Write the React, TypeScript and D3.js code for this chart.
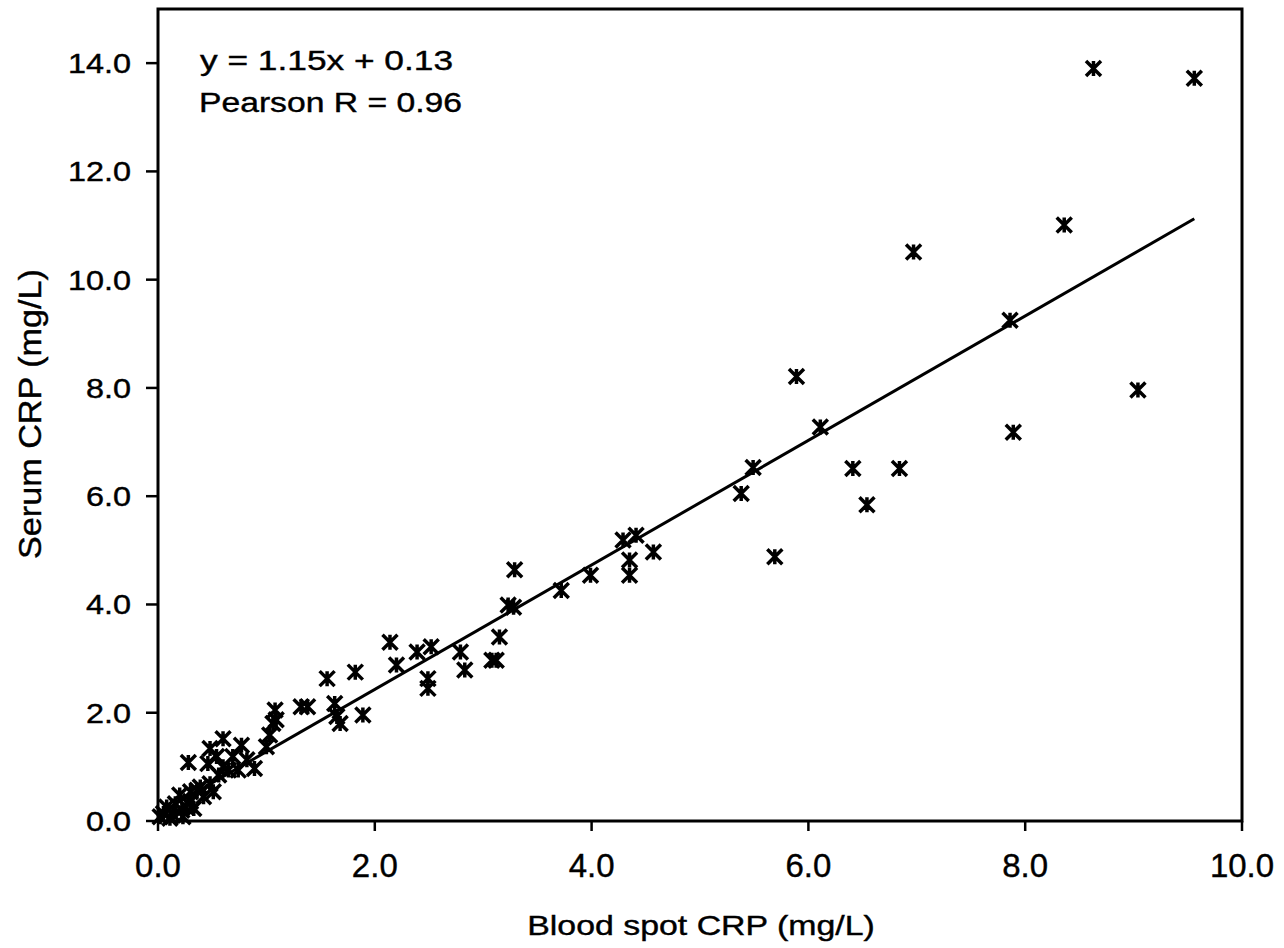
import React from "react";
import * as d3 from "d3";

const blood: number[] = [
  0.02, 0.05, 0.08, 0.11, 0.14, 0.16, 0.2, 0.22, 0.23, 0.26, 0.28, 0.3, 0.3, 0.33, 0.36, 0.39, 0.42, 0.46,
  0.48, 0.48, 0.51, 0.54, 0.56, 0.6, 0.6, 0.65, 0.69, 0.74, 0.77, 0.82, 0.89, 1.0, 1.03, 1.06, 1.08, 1.09,
  1.32, 1.38, 1.56, 1.63, 1.65, 1.68, 1.82, 1.89, 2.14, 2.2, 2.39, 2.49, 2.49, 2.52, 2.79, 2.83, 3.08, 3.12,
  3.15, 3.23, 3.28, 3.29, 3.72, 3.99, 4.29, 4.41, 4.35, 4.35, 4.57,
  5.38, 5.49, 5.69, 5.89, 6.11, 6.41, 6.54, 6.84, 6.97, 7.86, 7.89, 8.36, 8.63, 9.04, 9.56,
];
const serum: number[] = [
  0.08, 0.14, 0.26, 0.05, 0.11, 0.32, 0.48, 0.2, 0.08, 0.26, 1.08, 0.54, 0.36, 0.23, 0.57, 0.63, 0.45, 1.06,
  0.69, 1.34, 0.54, 1.19, 0.85, 1.52, 1.0, 0.94, 1.19, 0.94, 1.4, 1.13, 0.97, 1.37, 1.59, 1.8, 2.05, 1.87,
  2.11, 2.11, 2.63, 2.17, 1.93, 1.8, 2.75, 1.96, 3.3, 2.88, 3.12, 2.63, 2.45, 3.22, 3.12, 2.79, 2.97, 2.97,
  3.4, 3.99, 3.95, 4.64, 4.26, 4.54, 5.19, 5.28, 4.82, 4.54, 4.97,
  6.05, 6.53, 4.88, 8.21, 7.28, 6.51, 5.84, 6.51, 10.51, 9.25, 7.18, 11.01, 13.9, 7.96, 13.72,
];

const xTicks: number[] = [0, 2, 4, 6, 8, 10];
const yTicks: number[] = [0, 2, 4, 6, 8, 10, 12, 14];
const slope = 1.15;
const intercept = 0.13;
const fitLines: string[] = ["y = 1.15x + 0.13", "Pearson R = 0.96"];

const FONT = "'Liberation Sans', Arial, Helvetica, sans-serif";

export default function App() {
  const W = 1284;
  const H = 948;
  const x = d3.scaleLinear().domain([0, 10]).range([158, 1242]);
  const y = d3.scaleLinear().domain([0, 15]).range([821, 9]);

  const xMin = d3.min(blood) as number;
  const xMax = d3.max(blood) as number;
  const fit = d3
    .line<number>()
    .x((d) => x(d))
    .y((d) => y(slope * d + intercept))([xMin, xMax]) as string;

  const s = 7.5;
  const marker = `M${-s},${-s}L${s},${s}M${-s},${s}L${s},${-s}M0,${-s}L0,${s}`;

  return (
    <svg
      width={W}
      height={H}
      style={{ position: "absolute", left: 0, top: 0, background: "#fff" }}
      fontFamily={FONT}
    >
      <rect x={0} y={0} width={W} height={H} fill="#fff" />
      <path d={fit} fill="none" stroke="#000" strokeWidth={3} />
      {blood.map((b, i) => (
        <path
          key={i}
          d={marker}
          transform={`translate(${x(b)},${y(serum[i])})`}
          fill="none"
          stroke="#000"
          strokeWidth={3.5}
        />
      ))}
      <rect
        x={x(0)}
        y={y(15)}
        width={x(10) - x(0)}
        height={y(0) - y(15)}
        fill="none"
        stroke="#000"
        strokeWidth={3}
      />
      {xTicks.map((t) => (
        <g key={"xt" + t}>
          <line x1={x(t)} x2={x(t)} y1={y(0)} y2={y(0) + 10} stroke="#000" strokeWidth={2.5} />
          <text x={x(t)} y={877} fontSize={33} textAnchor="middle" fill="#000" stroke="#000" strokeWidth={0.4}>
            {t.toFixed(1)}
          </text>
        </g>
      ))}
      {yTicks.map((t) => (
        <g key={"yt" + t}>
          <line x1={x(0) - 12} x2={x(0)} y1={y(t)} y2={y(t)} stroke="#000" strokeWidth={2.5} />
          <text
            transform={`translate(131,${y(t) + 10}) scale(1.2,1)`}
            fontSize={27}
            textAnchor="end"
            fill="#000"
            stroke="#000"
            strokeWidth={0.4}
          >
            {t.toFixed(1)}
          </text>
        </g>
      ))}
      <text
        transform={`translate(701,935) scale(1.21,1)`}
        fontSize={28}
        textAnchor="middle"
        fill="#000"
        stroke="#000"
        strokeWidth={0.4}
      >
        Blood spot CRP (mg/L)
      </text>
      <text
        transform={`translate(41,414) rotate(-90)`}
        fontSize={31}
        textAnchor="middle"
        textLength={290}
        lengthAdjust="spacingAndGlyphs"
        fill="#000"
        stroke="#000"
        strokeWidth={0.4}
      >
        Serum CRP (mg/L)
      </text>
      <text x={200} y={70} fontSize={27} textLength={253} lengthAdjust="spacingAndGlyphs" fill="#000" stroke="#000" strokeWidth={0.4}>
        {fitLines[0]}
      </text>
      <text x={199} y={112} fontSize={27} textLength={263} lengthAdjust="spacingAndGlyphs" fill="#000" stroke="#000" strokeWidth={0.4}>
        {fitLines[1]}
      </text>
    </svg>
  );
}
